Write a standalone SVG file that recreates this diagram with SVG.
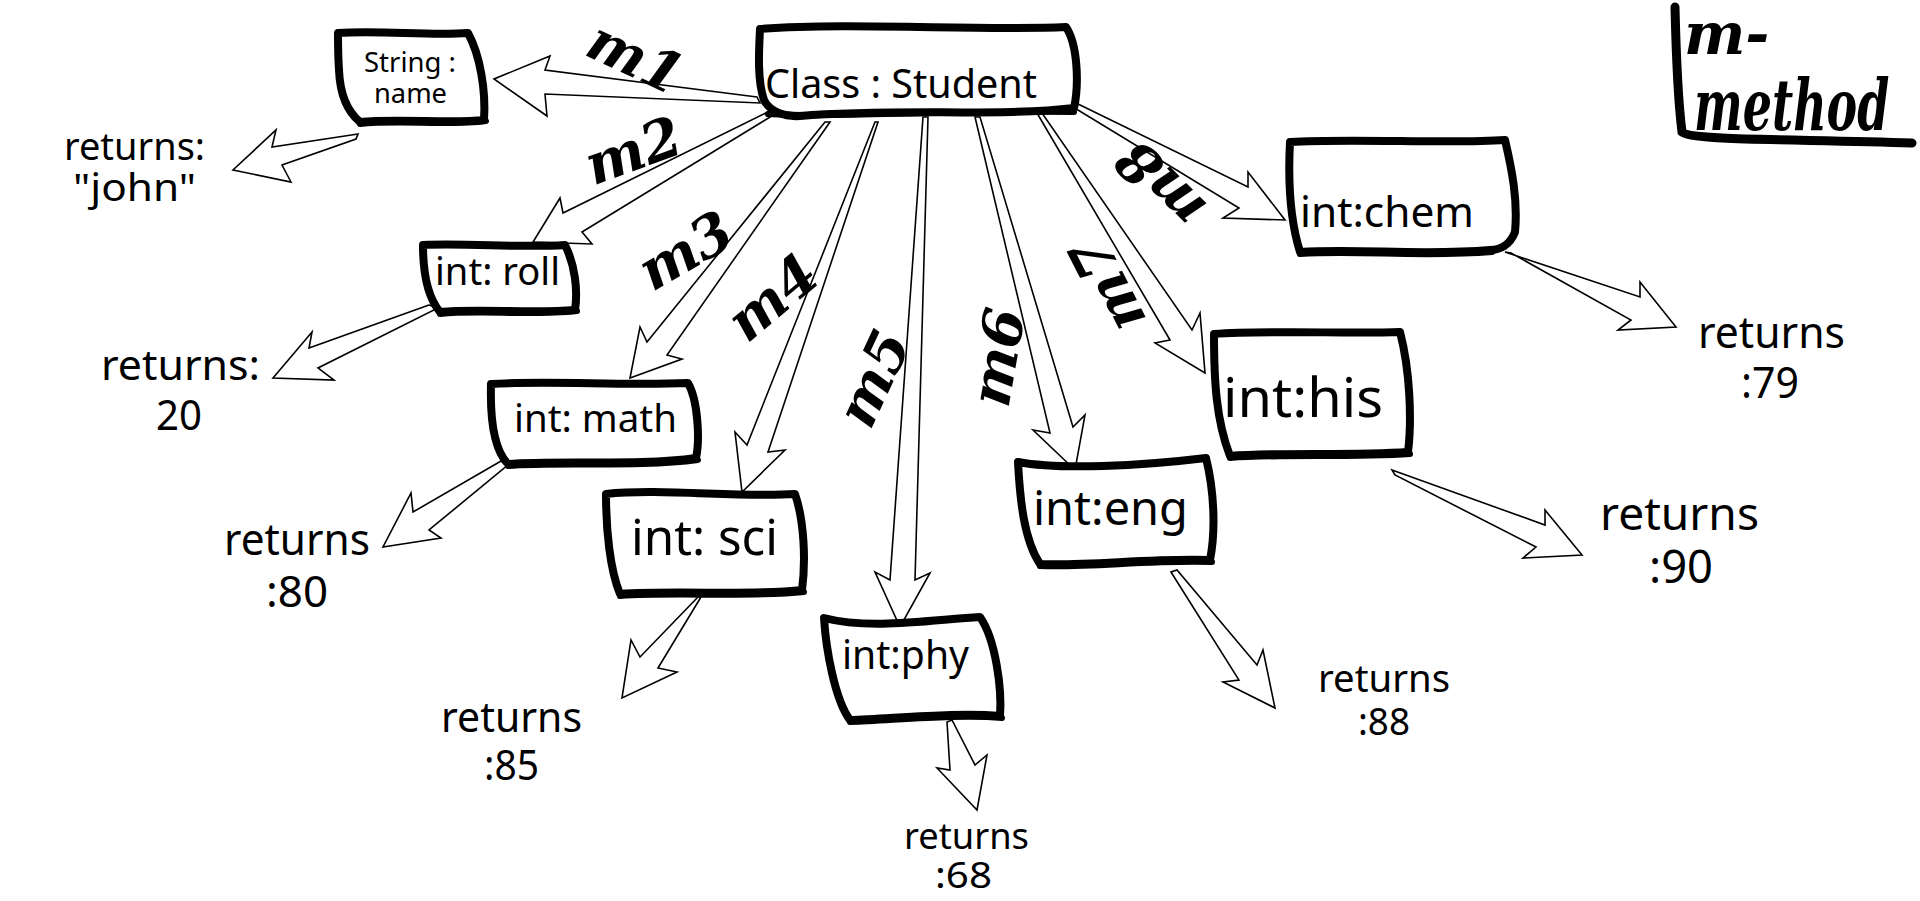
<svg xmlns="http://www.w3.org/2000/svg" width="1920" height="901" viewBox="0 0 1920 901">
<style>
.bg{fill:#fff}
.arrow{fill:#fff;stroke:#000;stroke-width:1.6;stroke-linejoin:miter}
.box{fill:#fff;stroke:#000;stroke-width:8;stroke-linejoin:round;stroke-linecap:round}
.shadow{fill:none;stroke:#000;stroke-width:6;stroke-linecap:round}
.t{font-family:"Noto Sans","Open Sans","DejaVu Sans",sans-serif;fill:#000}
.lbl{font-family:"DejaVu Serif","Liberation Serif",serif;font-weight:bold;font-style:italic;font-size:56px;fill:#000;text-anchor:middle;dominant-baseline:central}
.leg{font-family:"DejaVu Serif","Liberation Serif",serif;font-weight:bold;font-style:italic;fill:#000}
</style>
<rect class="bg" x="0" y="0" width="1920" height="901"/>

<g id="connectors">
<polygon class="arrow" points="757,97 545,70 550,56 494,79 547,116 545,94 760,103"/>
<polygon class="arrow" points="358,134 272,147 276,130 233,170 291,182 282,165 356,139"/>
<polygon class="arrow" points="768,112 563,213 560,198 533,242 592,244 582,232 775,114"/>
<polygon class="arrow" points="429,305 309,348 312,332 273,378 334,380 318,368 438,308"/>
<polygon class="arrow" points="825,122 647,342 640,327 630,378 682,359 667,355 830,122"/>
<polygon class="arrow" points="875,122 747,445 735,432 742,492 785,450 768,452 878,122"/>
<polygon class="arrow" points="923,117 890,580 875,572 900,627 930,573 915,580 928,117"/>
<polygon class="arrow" points="975,117 1050,433 1033,430 1075,470 1085,415 1073,427 980,117"/>
<polygon class="arrow" points="1037,113 1170,340 1155,343 1205,373 1200,313 1192,330 1042,113"/>
<polygon class="arrow" points="1076,103 1248,187 1248,172 1285,220 1223,218 1239,208 1073,107"/>
<polygon class="arrow" points="508,457 413,512 411,493 383,547 441,538 429,530 514,460"/>
<polygon class="arrow" points="698,597 640,657 631,640 622,698 677,672 658,668 701,597"/>
<polygon class="arrow" points="947,722 950,770 937,768 977,810 987,755 975,765 952,720"/>
<polygon class="arrow" points="1171,572 1239,680 1223,682 1275,708 1263,650 1257,665 1177,570"/>
<polygon class="arrow" points="1392,470 1545,525 1545,510 1582,555 1523,558 1536,547 1395,475"/>
<polygon class="arrow" points="1505,252 1640,297 1640,282 1676,327 1618,330 1631,320 1511,253"/>
</g>

<g id="labels">
<text class="lbl" transform="translate(636,57) rotate(25)">m1</text>
<text class="lbl" transform="translate(633,150) rotate(-20)">m2</text>
<text class="lbl" transform="translate(685,250) rotate(-30)">m3</text>
<text class="lbl" transform="translate(772,297) rotate(-40)">m4</text>
<text class="lbl" transform="translate(873,378) rotate(-65)">m5</text>
<text class="lbl" transform="translate(997,357) rotate(-80)">m6</text>
<text class="lbl" transform="translate(1107,285) rotate(-117)">m7</text>
<text class="lbl" transform="translate(1160,185) rotate(-135)">m8</text>
</g>

<g id="node-student">
<path class="box" d="M760,29 C850,22 980,31 1066,27 C1078,45 1079,85 1074,108 C1000,117 900,108 800,116 C785,117 770,112 764,100 C757,80 759,50 760,29 Z"/>
<path class="shadow" d="M768,114 C850,118 950,110 1074,112"/>
<text class="t" x="765" y="98" font-size="40" textLength="272" lengthAdjust="spacingAndGlyphs">Class : Student</text>
</g>

<g id="node-name">
<path class="box" d="M338,33 C380,30 430,36 468,33 C480,55 486,90 484,120 C450,124 400,118 360,122 C348,112 340,95 339,70 C338,55 338,42 338,33 Z"/>
<path class="shadow" d="M360,124 C400,120 450,126 486,121"/>
<text class="t" font-size="27"><tspan x="364" y="72" textLength="92" lengthAdjust="spacingAndGlyphs">String :</tspan><tspan x="374" y="103" textLength="73" lengthAdjust="spacingAndGlyphs">name</tspan></text>
</g>

<g id="node-roll">
<path class="box" d="M423,245 C470,243 520,248 565,245 C575,265 578,290 575,310 C530,314 480,308 440,312 C430,300 423,280 423,245 Z"/>
<path class="shadow" d="M440,314 C480,310 530,316 577,311"/>
<text class="t" x="435" y="285" font-size="38" textLength="125" lengthAdjust="spacingAndGlyphs">int: roll</text>
</g>

<g id="node-math">
<path class="box" d="M491,384 C550,380 620,386 688,383 C698,400 700,440 696,458 C640,466 560,460 508,464 C494,450 490,420 491,384 Z"/>
<path class="shadow" d="M508,466 C560,462 640,468 698,460"/>
<text class="t" x="514" y="432" font-size="38" textLength="163" lengthAdjust="spacingAndGlyphs">int: math</text>
</g>

<g id="node-sci">
<path class="box" d="M606,494 C660,488 740,498 795,494 C804,520 806,560 802,590 C750,596 680,590 620,594 C610,570 606,530 606,494 Z"/>
<path class="shadow" d="M620,596 C680,592 750,598 804,592"/>
<text class="t" x="631" y="555" font-size="50" textLength="147" lengthAdjust="spacingAndGlyphs">int: sci</text>
</g>

<g id="node-phy">
<path class="box" d="M824,618 C870,630 930,620 980,617 C996,640 1002,690 1000,716 C960,712 900,718 850,720 C835,700 826,650 824,618 Z"/>
<path class="shadow" d="M850,722 C900,720 960,714 1002,718"/>
<text class="t" x="842" y="669" font-size="40" textLength="127" lengthAdjust="spacingAndGlyphs">int:phy</text>
</g>

<g id="node-eng">
<path class="box" d="M1018,462 C1060,470 1140,466 1206,458 C1214,490 1216,530 1210,560 C1150,558 1090,566 1040,564 C1024,540 1020,500 1018,462 Z"/>
<path class="shadow" d="M1040,566 C1090,568 1150,560 1212,562"/>
<text class="t" x="1033" y="525" font-size="47" textLength="155" lengthAdjust="spacingAndGlyphs">int:eng</text>
</g>

<g id="node-his">
<path class="box" d="M1214,334 C1270,330 1350,334 1400,332 C1410,370 1412,420 1408,452 C1350,456 1280,452 1230,456 C1216,420 1214,380 1214,334 Z"/>
<path class="shadow" d="M1230,458 C1280,454 1350,458 1410,454"/>
<text class="t" x="1223" y="417" font-size="55" textLength="160" lengthAdjust="spacingAndGlyphs">int:his</text>
</g>

<g id="node-chem">
<path class="box" d="M1290,142 C1350,138 1450,144 1505,140 C1512,170 1518,200 1515,232 C1510,245 1500,250 1490,250 C1420,256 1360,248 1300,252 C1290,220 1288,180 1290,142 Z"/>
<path class="shadow" d="M1300,254 C1360,250 1420,258 1492,252"/>
<text class="t" x="1300" y="227" font-size="42" textLength="174" lengthAdjust="spacingAndGlyphs">int:chem</text>
</g>

<g id="returns">
<text class="t" font-size="39"><tspan x="64" y="160" textLength="141" lengthAdjust="spacingAndGlyphs">returns:</tspan><tspan x="73" y="201" textLength="123" lengthAdjust="spacingAndGlyphs">"john"</tspan></text>
<text class="t" font-size="42"><tspan x="101" y="380" textLength="159" lengthAdjust="spacingAndGlyphs">returns:</tspan><tspan x="156" y="430" textLength="46" lengthAdjust="spacingAndGlyphs">20</tspan></text>
<text class="t" font-size="43"><tspan x="224" y="555" textLength="146" lengthAdjust="spacingAndGlyphs">returns</tspan><tspan x="266" y="607" textLength="62" lengthAdjust="spacingAndGlyphs">:80</tspan></text>
<text class="t" font-size="41"><tspan x="441" y="732" textLength="141" lengthAdjust="spacingAndGlyphs">returns</tspan><tspan x="484" y="780" textLength="55" lengthAdjust="spacingAndGlyphs">:85</tspan></text>
<text class="t" font-size="37"><tspan x="904" y="849" textLength="125" lengthAdjust="spacingAndGlyphs">returns</tspan><tspan x="935" y="888" textLength="57" lengthAdjust="spacingAndGlyphs">:68</tspan></text>
<text class="t" font-size="39"><tspan x="1318" y="692" textLength="132" lengthAdjust="spacingAndGlyphs">returns</tspan><tspan x="1358" y="735" textLength="52" lengthAdjust="spacingAndGlyphs">:88</tspan></text>
<text class="t" font-size="46"><tspan x="1600" y="530" textLength="159" lengthAdjust="spacingAndGlyphs">returns</tspan><tspan x="1649" y="583" textLength="64" lengthAdjust="spacingAndGlyphs">:90</tspan></text>
<text class="t" font-size="43"><tspan x="1698" y="348" textLength="147" lengthAdjust="spacingAndGlyphs">returns</tspan><tspan x="1741" y="398" textLength="58" lengthAdjust="spacingAndGlyphs">:79</tspan></text>
</g>

<g id="legend">
<path d="M1675,7 C1676,50 1678,100 1682,132 C1690,141 1800,139 1912,143" fill="none" stroke="#000" stroke-width="9" stroke-linecap="round"/>
<text class="leg" x="1684" y="54" font-size="58">m-</text>
<text class="leg" font-size="46" transform="translate(1694,130) scale(1,1.55)">method</text>
</g>
</svg>
